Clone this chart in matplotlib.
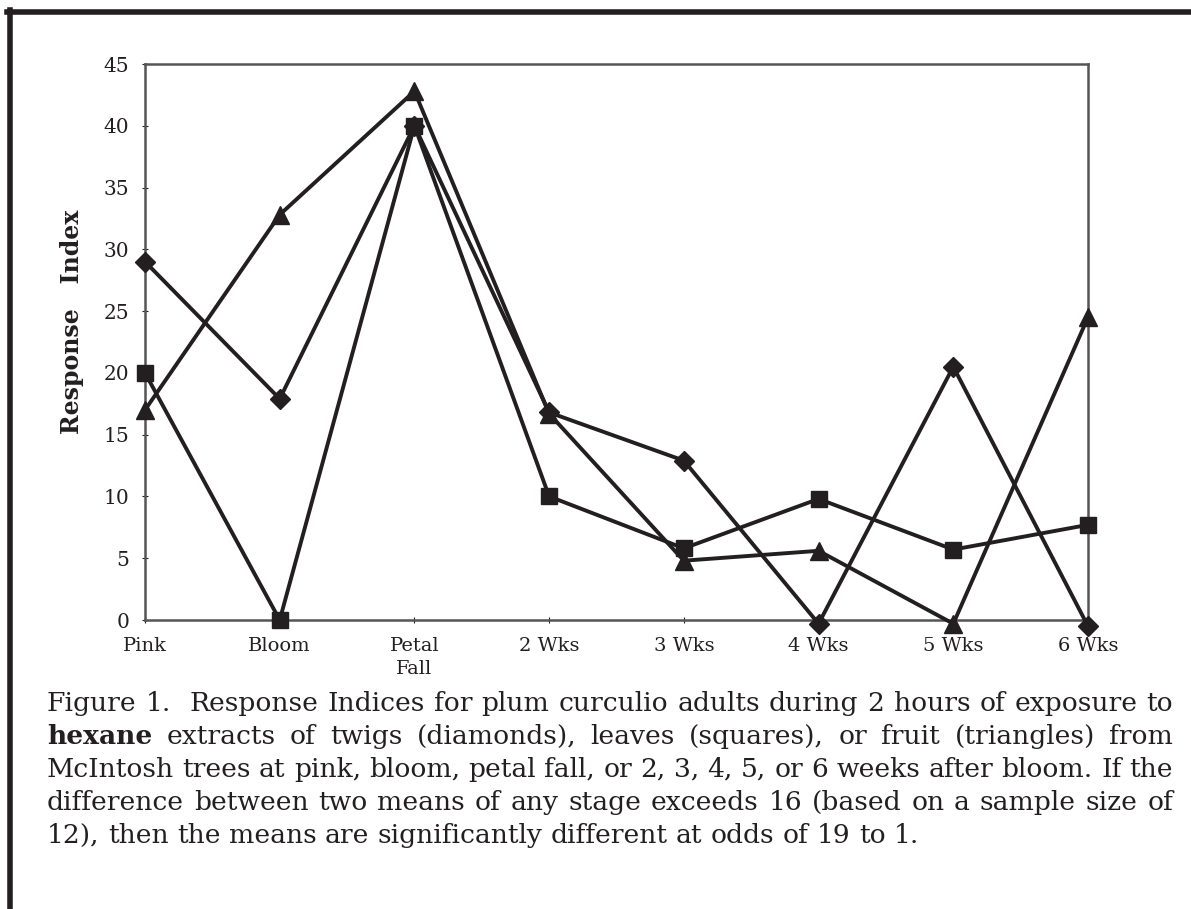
import matplotlib
matplotlib.use('Agg')
import matplotlib.pyplot as plt
from matplotlib.lines import Line2D

stages = ['Pink', 'Bloom', 'Petal\nFall', '2 Wks', '3 Wks', '4 Wks', '5 Wks', '6 Wks']
twigs = [29.0, 17.9, 40.0, 16.8, 12.9, -0.3, 20.5, -0.5]
leaves = [20.0, 0.0, 40.0, 10.0, 5.8, 9.8, 5.7, 7.7]
fruit = [17.0, 32.8, 42.8, 16.7, 4.8, 5.6, -0.3, 24.5]
yticks = [0, 5, 10, 15, 20, 25, 30, 35, 40, 45]

caption = [
    [('Figure', 0), ('1.', 0), ('', 0), ('Response', 0), ('Indices', 0), ('for', 0), ('plum', 0),
     ('curculio', 0), ('adults', 0), ('during', 0), ('2', 0), ('hours', 0), ('of', 0),
     ('exposure', 0), ('to', 0)],
    [('hexane', 1), ('extracts', 0), ('of', 0), ('twigs', 0), ('(diamonds),', 0), ('leaves', 0),
     ('(squares),', 0), ('or', 0), ('fruit', 0), ('(triangles)', 0), ('from', 0)],
    [('McIntosh', 0), ('trees', 0), ('at', 0), ('pink,', 0), ('bloom,', 0), ('petal', 0),
     ('fall,', 0), ('or', 0), ('2,', 0), ('3,', 0), ('4,', 0), ('5,', 0), ('or', 0), ('6', 0),
     ('weeks', 0), ('after', 0), ('bloom.', 0), ('If', 0), ('the', 0)],
    [('difference', 0), ('between', 0), ('two', 0), ('means', 0), ('of', 0), ('any', 0),
     ('stage', 0), ('exceeds', 0), ('16', 0), ('(based', 0), ('on', 0), ('a', 0), ('sample', 0),
     ('size', 0), ('of', 0)],
    [('12),', 0), ('then', 0), ('the', 0), ('means', 0), ('are', 0), ('significantly', 0),
     ('different', 0), ('at', 0), ('odds', 0), ('of', 0), ('19', 0), ('to', 0), ('1.', 0)],
]

W, H = 1191, 909
ink = '#231f20'
serif = 'DejaVu Serif'
fig = plt.figure(figsize=(W / 100, H / 100), dpi=100)
ax = fig.add_axes([145 / W, 1 - 620 / H, (1088 - 145) / W, (620 - 64) / H])

x = list(range(len(stages)))
ax.plot(x, twigs, color=ink, lw=2.8, marker='D', ms=10, clip_on=False, zorder=3)
ax.plot(x, leaves, color=ink, lw=2.8, marker='s', ms=11, clip_on=False, zorder=3)
ax.plot(x, fruit, color=ink, lw=2.8, marker='^', ms=13.5, clip_on=False, zorder=3)

ax.set_xlim(0, 7)
ax.set_ylim(0, 45)
ax.set_xticks(x)
ax.set_xticklabels(stages, fontfamily=serif, fontsize=14, linespacing=1.3, color=ink)
ax.set_yticks(yticks)
ax.set_yticklabels([str(v) for v in yticks], fontfamily=serif, fontsize=14.5, color=ink)
ax.tick_params(axis='both', direction='inout', length=5, width=0.8, colors=ink)
ax.tick_params(axis='x', pad=10)
ax.tick_params(axis='y', pad=9)
for s in ax.spines.values():
    s.set_linestyle((0, (1.2, 1)))
    s.set_linewidth(1.8)
    s.set_color('#555555')
ax.text(-73 / 943, (620 - 322) / 556, 'Response   Index', transform=ax.transAxes,
        rotation=90, ha='center', va='center', fontfamily=serif, fontweight='bold',
        fontsize=17, color=ink)

# page frame
fig.add_artist(Line2D([7 / W, 1], [1 - 12 / H] * 2, color=ink, lw=4, transform=fig.transFigure))
fig.add_artist(Line2D([9.5 / W] * 2, [0, 1 - 10 / H], color=ink, lw=4, transform=fig.transFigure))

# justified caption, font size fitted so the fullest line sets with plain spaces
left, right = 47, 1173
r = fig.canvas.get_renderer()


def wid(s, b=0, size=10):
    if not s:
        return 0
    t = fig.text(0, 0, s, fontfamily=serif, fontsize=size, fontweight='bold' if b else 'normal')
    w = t.get_window_extent(r).width
    t.remove()
    return w


sp10 = wid('x x') - wid('xx')
nat = [sum(wid(w, b) for w, b in line) + sp10 * (len(line) - 1) for line in caption[:-1]]
fsize = 10 * (right - left) / max(nat)

for i, words in enumerate(caption):
    base = 1 - (711 + 33 * i) / H
    texts = []
    for w, b in words:
        t = fig.text(0, base, w, fontfamily=serif, fontsize=fsize, color=ink,
                     fontweight='bold' if b else 'normal', va='baseline')
        texts.append(t)
    widths = [t.get_window_extent(r).width if t.get_text() else 0 for t in texts]
    if i < len(caption) - 1:
        gap = (right - left - sum(widths)) / (len(words) - 1)
    else:
        gap = sp10 * fsize / 10
    xpos = left
    for t, wd in zip(texts, widths):
        t.set_x(xpos / W)
        xpos += wd + gap

fig.savefig('out.png', dpi=100)
